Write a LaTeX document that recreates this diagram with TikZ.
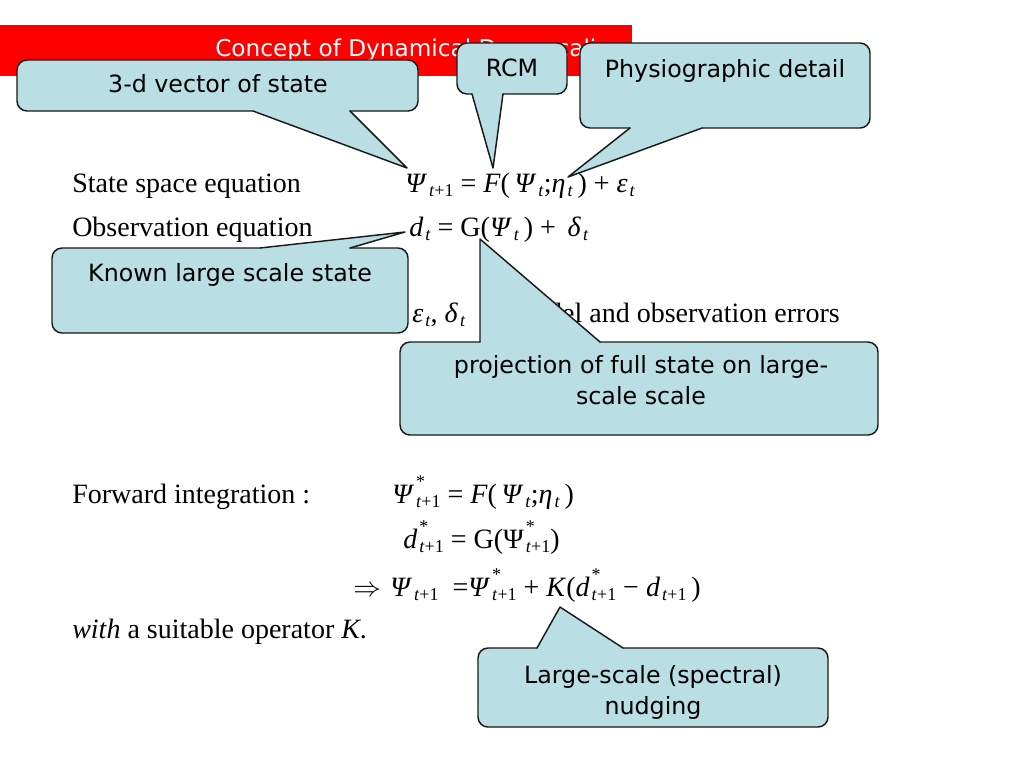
\documentclass[tikz,border=0pt]{standalone}
\usepackage{fontspec}
\setmainfont{Liberation Serif}
\newfontfamily\cfont{DejaVu Sans}
\definecolor{banner}{HTML}{FF0000}
\definecolor{cfill}{HTML}{B9DEE3}
\definecolor{cline}{HTML}{1A1A1A}
\newcommand\mi[1]{\textit{#1}}
\newcommand\sbx[1]{\hspace{1.5pt}\raisebox{-3.5pt}{\fontsize{13.5}{13.5}\selectfont #1}}
\newcommand\sbsp[2]{\hspace{1.5pt}\rlap{\raisebox{12pt}{\fontsize{13.5}{13.5}\selectfont #1}}\raisebox{-3.5pt}{\fontsize{13.5}{13.5}\selectfont #2}}
\tikzset{
  body/.style={font=\fontsize{21}{25}\selectfont, anchor=base west, inner sep=0pt},
  ctext/.style={font=\cfont\fontsize{17.8}{23}\selectfont, align=center, inner sep=0pt, anchor=base},
  titlest/.style={font=\cfont\fontsize{17.4}{20}\selectfont, text=white, anchor=base west, inner sep=0pt},
  cedge/.style={draw=cline, line width=1.1pt, line cap=round, line join=round},
}
% callout with pointer on bottom edge: x1 y1 x2 y2 baseleft baseright tipx tipy
\newcommand\callB[8]{%
  \fill[cfill,rounded corners=7.5pt] (#1,#2) rectangle (#3,#4);
  \fill[cfill] (#5,#4-1) -- (#7,#8) -- (#6,#4-1) -- cycle;
  \draw[cedge,rounded corners=7.5pt] (#6,#4) -- (#3,#4) -- (#3,#2) -- (#1,#2) -- (#1,#4) -- (#5,#4);
  \draw[cedge] (#5,#4) -- (#7,#8) -- (#6,#4);
}
% callout with pointer on top edge
\newcommand\callT[8]{%
  \fill[cfill,rounded corners=7.5pt] (#1,#2) rectangle (#3,#4);
  \fill[cfill] (#5,#2+1) -- (#7,#8) -- (#6,#2+1) -- cycle;
  \draw[cedge,rounded corners=7.5pt] (#5,#2) -- (#1,#2) -- (#1,#4) -- (#3,#4) -- (#3,#2) -- (#6,#2);
  \draw[cedge] (#5,#2) -- (#7,#8) -- (#6,#2);
}
\begin{document}
\begin{tikzpicture}[x=0.75pt,y=-0.75pt]
\useasboundingbox (0,0) rectangle (1024,768);
\fill[white] (0,0) rectangle (1024,768);
% banner
\fill[banner] (0,25) rectangle (632,76);
\node[titlest] (title) at (215,56) {Concept of Dynamical Downscaling};
% body text
\node[body] (lstate) at (72,192) {State space equation};
\node[body] (lobs) at (72,236) {Observation equation};
\node[body] (eqstate) at (405,192) {\mi{Ψ}\sbx{\mi{t}+1} = \mi{F}(\,\mi{Ψ}\sbx{\mi{t}};\mi{η}\sbx{\mi{t}}\,) + \mi{ε}\sbx{\mi{t}}};
\node[body] (eqobs) at (409,236) {\mi{d}\sbx{\mi{t}} = G(\mi{Ψ}\sbx{\mi{t}}\,) + \,\mi{δ}\sbx{\mi{t}}};
\node[body] (errs) at (412,322) {\mi{ε}\sbx{\mi{t}}, \mi{δ}\sbx{\mi{t}}};
\node[body,anchor=base east] (errtxt) at (840,322) {model and observation errors};
\node[body] (lfwd) at (72,503) {Forward integration :};
\node[body] (eqfwd) at (392,503) {\mi{Ψ}\sbsp{*}{\mi{t}+1} = \mi{F}(\,\mi{Ψ}\sbx{\mi{t}};\mi{η}\sbx{\mi{t}}\,)};
\node[body] (eqd) at (403,548) {\mi{d}\sbsp{*}{\mi{t}+1} = G(Ψ\sbsp{*}{\mi{t}+1})};
\node[body] (impl) at (353,596) {$\Rightarrow$};
\node[body] (equpd) at (390,596) {\mi{Ψ}\sbx{\mi{t}+1}\ \ =\mi{Ψ}\sbsp{*}{\mi{t}+1} + \mi{K}(\mi{d}\sbsp{*}{\mi{t}+1} − \mi{d}\sbx{\mi{t}+1}\,)};
\node[body] (lwith) at (72,638) {\mi{with} a suitable operator \mi{K}.};
% callouts
\callB{17}{60}{418}{111}{253}{350}{407}{168}
\node[ctext] (c1) at (218,92) {3-d vector of state};
\callB{457}{43}{567}{94}{472}{503}{493}{168}
\node[ctext] (c2) at (512,76) {RCM};
\callB{580}{43}{870}{128}{630}{702}{568}{177}
\node[ctext] (c3) at (725,77) {Physiographic detail};
\callT{52}{248}{408}{333}{260}{350}{405}{232}
\node[ctext] (c4) at (230,281) {Known large scale state};
\callT{400}{342}{878}{435}{480}{600}{480}{239}
\node[ctext] (c5) at (641,404) {projection of full state on large-\\scale scale};
\callT{478}{648}{828}{727}{537}{623}{560}{607}
\node[ctext] (c6) at (653,714) {Large-scale (spectral)\\nudging};
\end{tikzpicture}
\end{document}
